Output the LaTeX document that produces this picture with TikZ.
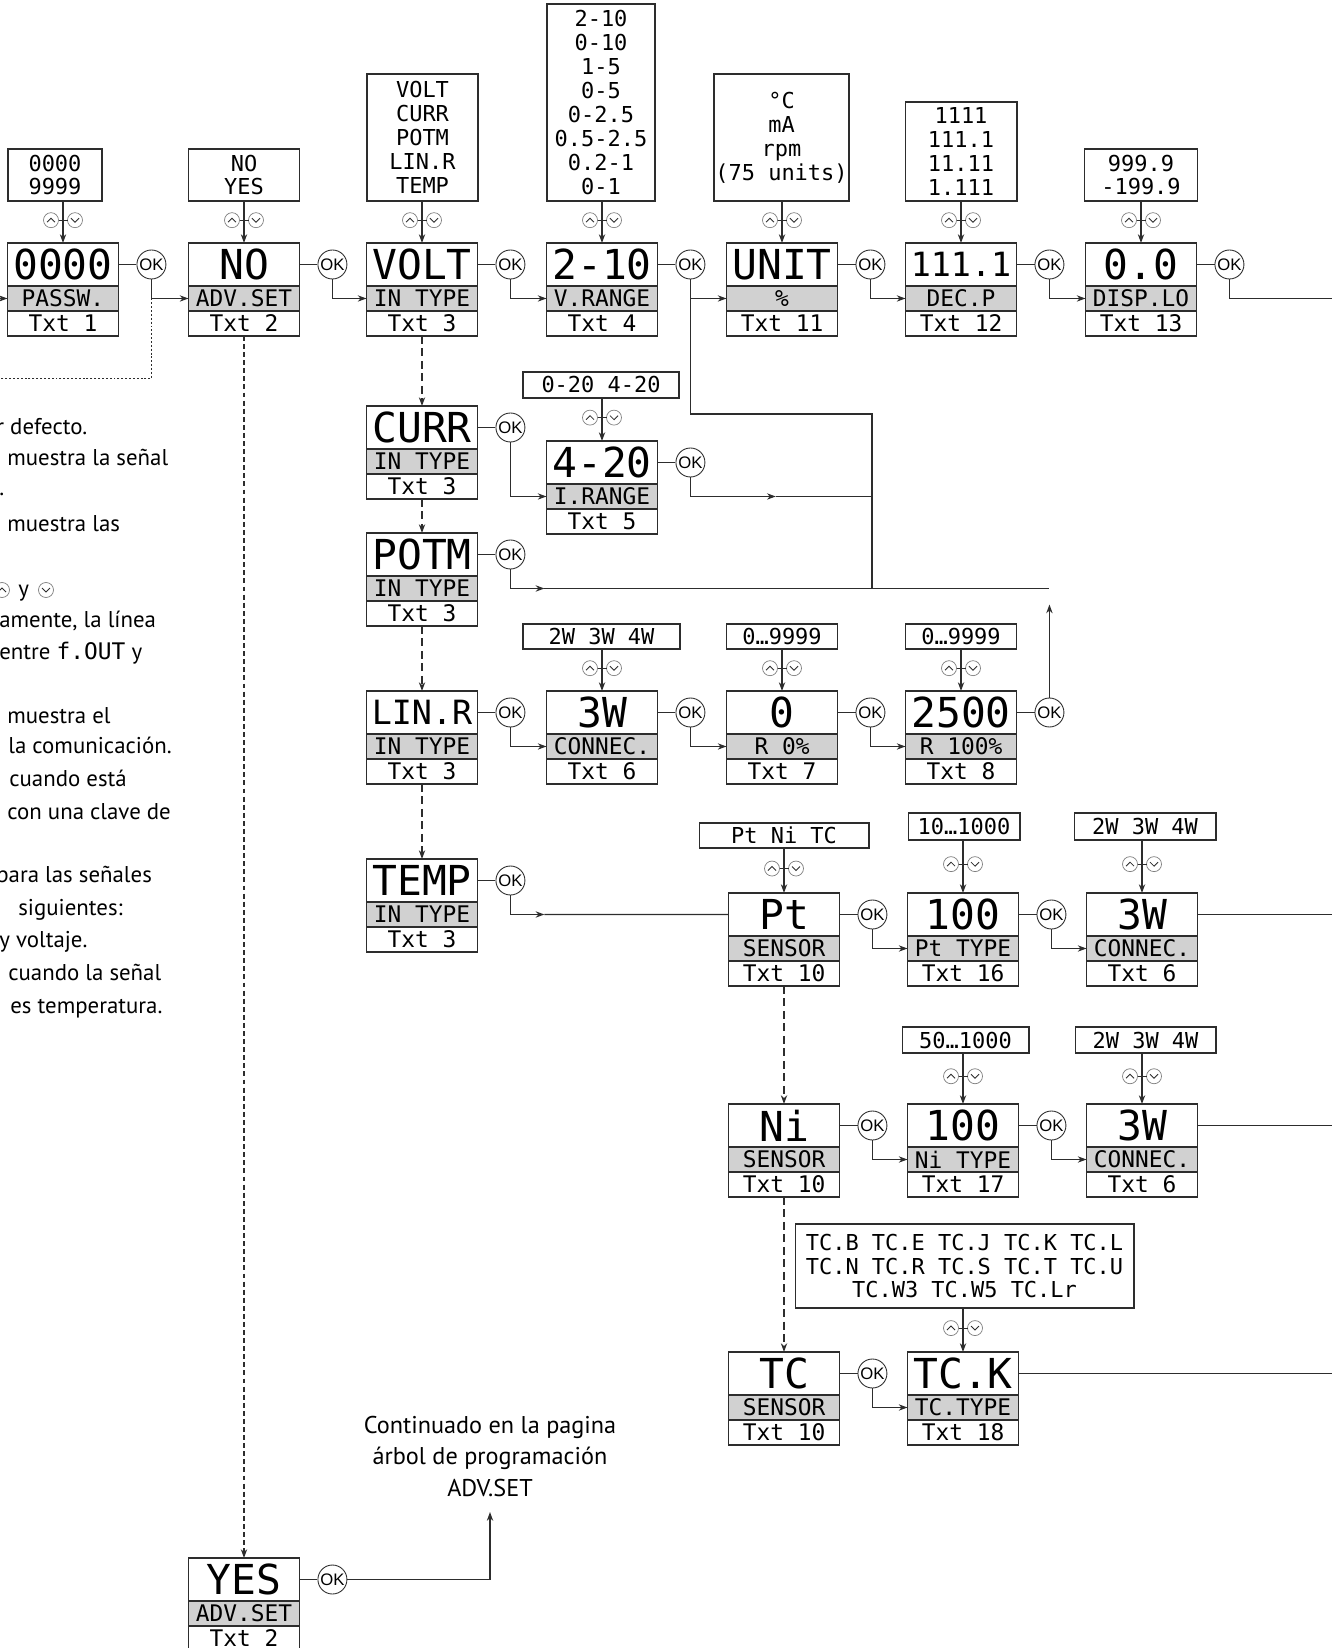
\documentclass[tikz,border=0pt]{standalone}
\usepackage{fontspec}
\setmainfont{PT Sans}
\newfontfamily\lcdfont{DejaVu Sans Mono}
\newfontfamily\keyfont{Liberation Sans}
\usetikzlibrary{arrows.meta,positioning,calc}
\definecolor{lcdline}{RGB}{45,45,45}
\definecolor{lcdgrey}{RGB}{209,209,209}
\newcommand{\lcdB}{\lcdfont\fontsize{23.5pt}{24pt}\selectfont}
\newcommand{\lcdBn}{\lcdfont\fontsize{19pt}{20pt}\selectfont}
\newcommand{\lcdS}{\lcdfont\fontsize{13pt}{14pt}\selectfont}
\newcommand{\lcdO}{\lcdfont\fontsize{12.5pt}{13.6pt}\selectfont}
\newcommand{\okfont}{\keyfont\fontsize{9.5pt}{10pt}\selectfont}
\newcommand{\notefont}{\fontsize{13pt}{18pt}\selectfont}
\newcommand{\contfont}{\fontsize{13.8pt}{17.9pt}\selectfont}

\begin{document}
\begin{tikzpicture}[x=0.02cm,y=-0.02cm,
    cell/.style={draw=lcdline,line width=0.9pt,minimum width=2.22cm,inner sep=0pt,outer sep=0pt},
    lcdtop/.style={cell,anchor=north,minimum height=0.86cm,font=\lcdB},
    lcdmid/.style={cell,fill=lcdgrey,minimum height=0.5cm,font=\lcdS},
    lcdbot/.style={cell,minimum height=0.5cm,font=\lcdS},
    optbox/.style={draw=lcdline,line width=0.6pt,inner sep=0pt,align=center,font=\lcdO},
    okbtn/.style={circle,draw=lcdline,line width=0.5pt,minimum size=0.58cm,inner sep=0pt,font=\okfont},
    wire/.style={draw=lcdline,line width=0.75pt},
    flow/.style={wire,-{Stealth[length=5pt,width=3.6pt]}},
    chain/.style={flow,dash pattern=on 4.5pt off 2.6pt},
    chainfine/.style={flow,dash pattern=on 2.8pt off 1.8pt},
    dotline/.style={wire,dash pattern=on 1.1pt off 1.1pt},
    note/.style={font=\notefont,anchor=base west,inner sep=0pt},
    keyring/.style={draw=black!50,line width=0.4pt,fill=white},
    keymark/.style={draw=lcdline,line width=0.5pt},
    upkey/.pic={\path[keyring] (0,0) circle (7.5); \draw[keymark] (-4,2)--(0,-2)--(4,2);},
    downkey/.pic={\path[keyring] (0,0) circle (7.5); \draw[keymark] (-4,-2)--(0,2)--(4,-2);},
    updown/.pic={\pic at (-12,0) {upkey}; \pic at (12,0) {downkey}; \draw[keymark] (-4.5,0)--(4.5,0);}]
  \useasboundingbox (0,0) rectangle (1332,1648);
  \clip (0,0) rectangle (1332,1648);
  \coordinate (edgeL) at (0,0);
  \coordinate (edgeR) at (1332,0);

  % option lists above the displays
  \node[optbox,minimum width=1.88cm,minimum height=1.04cm] (optpassw) at (55,175) {0000\\9999};
  \node[optbox,minimum width=2.22cm,minimum height=1.04cm] (optadv) at (244,175) {NO\\YES};
  \node[optbox,minimum width=2.22cm,minimum height=2.54cm] (optvolt) at (422.5,137.5) {VOLT\\CURR\\POTM\\LIN.R\\TEMP};
  \node[optbox,minimum width=2.16cm,minimum height=3.94cm] (optvrange) at (601,102.5) {2-10\\0-10\\1-5\\0-5\\0-2.5\\0.5-2.5\\0.2-1\\0-1};
  \node[optbox,minimum width=2.7cm,minimum height=2.54cm] (optunit) at (781.5,137.5) {°C\\mA\\rpm\\(75 units)};
  \node[optbox,minimum width=2.24cm,minimum height=1.98cm] (optdecp) at (961,151.5) {1111\\111.1\\11.11\\1.111};
  \node[optbox,minimum width=2.26cm,minimum height=1.04cm] (optdisp) at (1141,175) {999.9\\-199.9};
  \node[optbox,minimum width=3.12cm,minimum height=0.52cm] (optirange) at (601,385) {0-20 4-20};
  \node[optbox,minimum width=3.14cm,minimum height=0.5cm] (optconn) at (601.5,636.5) {2W 3W 4W};
  \node[optbox,minimum width=2.22cm,minimum height=0.5cm] (optrlo) at (782,636.5) {0…9999};
  \node[optbox,minimum width=2.22cm,minimum height=0.5cm] (optrhi) at (961,636.5) {0…9999};
  \node[optbox,minimum width=3.4cm,minimum height=0.5cm] (optpt) at (784,835.5) {Pt Ni TC};
  \node[optbox,minimum width=2.24cm,minimum height=0.54cm] (optpttype) at (964,826.5) {10…1000};
  \node[optbox,minimum width=2.84cm,minimum height=0.54cm] (optcpt) at (1145,826.5) {2W 3W 4W};
  \node[optbox,minimum width=2.54cm,minimum height=0.52cm] (optnitype) at (965.5,1040) {50…1000};
  \node[optbox,minimum width=2.82cm,minimum height=0.52cm] (optcni) at (1145.5,1040) {2W 3W 4W};
  \node[optbox,minimum width=6.78cm,minimum height=1.68cm] (opttck) at (964.5,1266) {TC.B TC.E TC.J TC.K TC.L\\TC.N TC.R TC.S TC.T TC.U\\TC.W3 TC.W5 TC.Lr};

  % displays: value / parameter / text number
  \foreach \nm/\cx/\ty/\vv/\lab/\tx in {
      passw/63/243/0000/PASSW./Txt 1,
      adv/244/243/NO/ADV.SET/Txt 2,
      volt/422/243/VOLT/IN TYPE/Txt 3,
      vrange/602/243/2-10/V.RANGE/Txt 4,
      unit/782/243/UNIT/\%/Txt 11,
      decp/961/243/{\lcdBn 111.1}/DEC.P/Txt 12,
      disp/1141/243/0.0/DISP.LO/Txt 13,
      curr/422/406/CURR/IN TYPE/Txt 3,
      irange/602/441/4-20/I.RANGE/Txt 5,
      potm/422/533/POTM/IN TYPE/Txt 3,
      linr/422/691/{\lcdBn LIN.R}/IN TYPE/Txt 3,
      conn/602/691/3W/CONNEC./Txt 6,
      rlo/782/691/0/R 0\%/Txt 7,
      rhi/961/691/2500/R 100\%/Txt 8,
      temp/422/859/TEMP/IN TYPE/Txt 3,
      pt/784/893/Pt/SENSOR/Txt 10,
      pttype/963/893/100/Pt TYPE/Txt 16,
      cpt/1142/893/3W/CONNEC./Txt 6,
      ni/784/1104/Ni/SENSOR/Txt 10,
      nitype/963/1104/100/Ni TYPE/Txt 17,
      cni/1142/1104/3W/CONNEC./Txt 6,
      tc/784/1352/TC/SENSOR/Txt 10,
      tck/963/1352/TC.K/TC.TYPE/Txt 18,
      yes/244/1558/YES/ADV.SET/Txt 2}{
    \node[lcdtop] (\nm) at (\cx,\ty) {\vv};
    \node[lcdmid,below=0pt of \nm] (\nm-g) {\lab};
    \node[lcdbot,below=0pt of \nm-g] (\nm-t) {\tx};
  }

  % OK keys
  \foreach \a in {passw,adv,volt,vrange,unit,decp,disp,curr,irange,potm,linr,conn,rlo,rhi,temp,pt,pttype,ni,nitype,tc,yes}{
    \node[okbtn,right=0.36cm of \a] (ok\a) {OK};
    \draw[wire] (\a) -- (ok\a);
  }

  % up/down selection
  \foreach \o/\m in {optpassw/passw,optadv/adv,optvolt/volt,optvrange/vrange,optunit/unit,optdecp/decp,optdisp/disp,
      optirange/irange,optconn/conn,optrlo/rlo,optrhi/rhi,optpt/pt,optpttype/pttype,optcpt/cpt,optnitype/nitype,optcni/cni,opttck/tck}{
    \draw[flow] (\m.north |- \o.south) -- (\m.north);
    \pic at ($(\m.north |- \o.south)!0.45!(\m.north)$) {updown};
  }

  % OK to next parameter
  \foreach \a/\b in {passw/adv,adv/volt,volt/vrange,vrange/unit,unit/decp,decp/disp,curr/irange,linr/conn,conn/rlo,rlo/rhi,
      pt/pttype,pttype/cpt,ni/nitype,nitype/cni,tc/tck}
    \draw[flow] (ok\a) |- (\b-g);

  % entry and exits
  \draw[flow] (passw-g -| edgeL) -- (passw-g);
  \coordinate (dotC) at ($(okpassw |- passw-g)+(0,80)$);
  \draw[dotline] (okpassw |- passw-g) -- (dotC) -- (dotC -| edgeL);
  \draw[wire] (okdisp) |- (disp-g -| edgeR);
  \draw[wire] (cpt) -- (cpt -| edgeR);
  \draw[wire] (cni) -- (cni -| edgeR);
  \draw[wire] (tck) -- (tck -| edgeR);

  % return lines to UNIT
  \coordinate (busT) at (872,414);
  \draw[wire] (okvrange) |- (busT) -- (busT |- potm-g);
  \coordinate (irArr) at ($(okirange |- irange-g)!0.47!(busT |- irange-g)$);
  \draw[flow] (okirange) |- (irArr);
  \draw[wire] (irArr) -- (busT |- irArr);
  \coordinate (potmArr) at ($(okpotm |- potm-g)+(34,0)$);
  \draw[flow] (okpotm) |- (potmArr);
  \draw[wire] (potmArr) -- (okrhi |- potm-g);
  \draw[flow] (okrhi) -- ($(okrhi |- potm-g)+(0,16)$);
  \coordinate (tempArr) at ($(oktemp |- temp-g)+(34,0)$);
  \draw[flow] (oktemp) |- (tempArr);
  \draw[wire] (tempArr) -- (pt);

  % scrolling between values
  \foreach \a/\b in {volt-t/curr,curr-t/potm,potm-t/linr,linr-t/temp,pt-t/ni,ni-t/tc}
    \draw[chain] (\a) -- (\b);
  \draw[chainfine] (adv-t) -- (yes);

  % advanced settings
  \node[font=\contfont,align=center,anchor=south,inner xsep=0pt,inner ysep=0.3cm] (cont) at (490,1512)
    {Continuado en la pagina\\árbol de programación\\ADV.SET};
  \draw[flow] (okyes) -| (cont.south);

  % side notes (cut at the page edge)
  \foreach \yy/\xx/\tt [count=\i] in {435/-4/{r defecto.},466/7/{muestra la señal},496/-1/{.},531/7/{muestra las},
      627/-1/{amente, la línea},659/-1/{entre {\lcdS f.OUT} y},723/7/{muestra el},753/8/{la comunicación.},
      786/9/{cuando está},819/7/{con una clave de},882/-4/{para las señales},915/18/{siguientes:},
      947/-1/{y voltaje.},980/8/{cuando la señal},1013/10/{es temperatura.}}
    \node[note] (side\i) at (\xx,\yy) {\tt};
  \pic at (2,590) {upkey};
  \node[note] (sidey) at (18,596) {y};
  \pic at (46,590) {downkey};
\end{tikzpicture}
\end{document}
